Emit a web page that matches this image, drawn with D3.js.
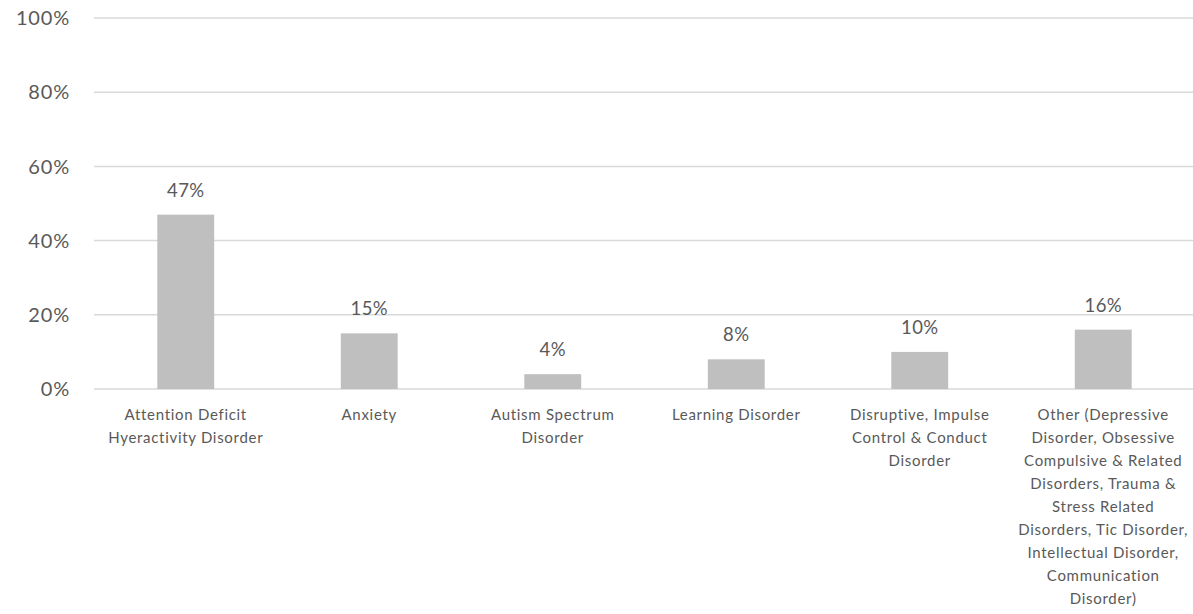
<!DOCTYPE html>
<html><head><meta charset="utf-8">
<script src="https://cdn.jsdelivr.net/npm/d3@7"></script>
<style>body{margin:0;background:#fff}svg{display:block}text{font-family:Lato,"Open Sans",sans-serif;fill:#595959}</style>
</head><body><svg id="c" width="1193" height="614"></svg>
<script>
const categories = [
  ["Attention Deficit","Hyeractivity Disorder"],
  ["Anxiety"],
  ["Autism Spectrum","Disorder"],
  ["Learning Disorder"],
  ["Disruptive, Impulse","Control & Conduct","Disorder"],
  ["Other (Depressive","Disorder, Obsessive","Compulsive & Related","Disorders, Trauma &","Stress Related","Disorders, Tic Disorder,","Intellectual Disorder,","Communication","Disorder)"]
];
const values = [47, 15, 4, 8, 10, 16];
const yTicks = [0, 20, 40, 60, 80, 100];

const svg = d3.select("#c");
const ids = categories.map((c,i)=>i);
const x = d3.scaleBand().domain(ids).range([94, 1195]).paddingInner(0.69).paddingOuter(0.345);
const y = d3.scaleLinear().domain([0,100]).range([389, 18]);

svg.append("g").selectAll("line").data(yTicks).join("line")
  .attr("x1",94).attr("x2",1195).attr("y1",d=>y(d)).attr("y2",d=>y(d))
  .attr("stroke","#d9d9d9").attr("stroke-width",1.5);

svg.append("g").selectAll("text").data(yTicks).join("text")
  .attr("x",70).attr("y",d=>y(d)).attr("dy","0.36em").attr("text-anchor","end")
  .attr("font-size",20).attr("letter-spacing",0.8).text(d=>d+"%");

svg.append("g").selectAll("rect").data(values).join("rect")
  .attr("x",(d,i)=>x(i)).attr("width",x.bandwidth())
  .attr("y",d=>y(d)).attr("height",d=>y(0)-y(d)).attr("fill","#bfbfbf");

svg.append("g").selectAll("text").data(values).join("text")
  .attr("x",(d,i)=>x(i)+x.bandwidth()/2).attr("y",d=>y(d)-18)
  .attr("text-anchor","middle").attr("font-size",18.5).attr("letter-spacing",0.4).text(d=>d+"%");

const cl = svg.append("g").selectAll("text").data(categories).join("text")
  .attr("text-anchor","middle").attr("font-size",15).attr("letter-spacing",0.7)
  .attr("transform",(d,i)=>`translate(${x(i)+x.bandwidth()/2},420)`);
cl.selectAll("tspan").data(d=>d).join("tspan")
  .attr("x",0).attr("y",(d,j)=>j*23).text(d=>d);
</script></body></html>
